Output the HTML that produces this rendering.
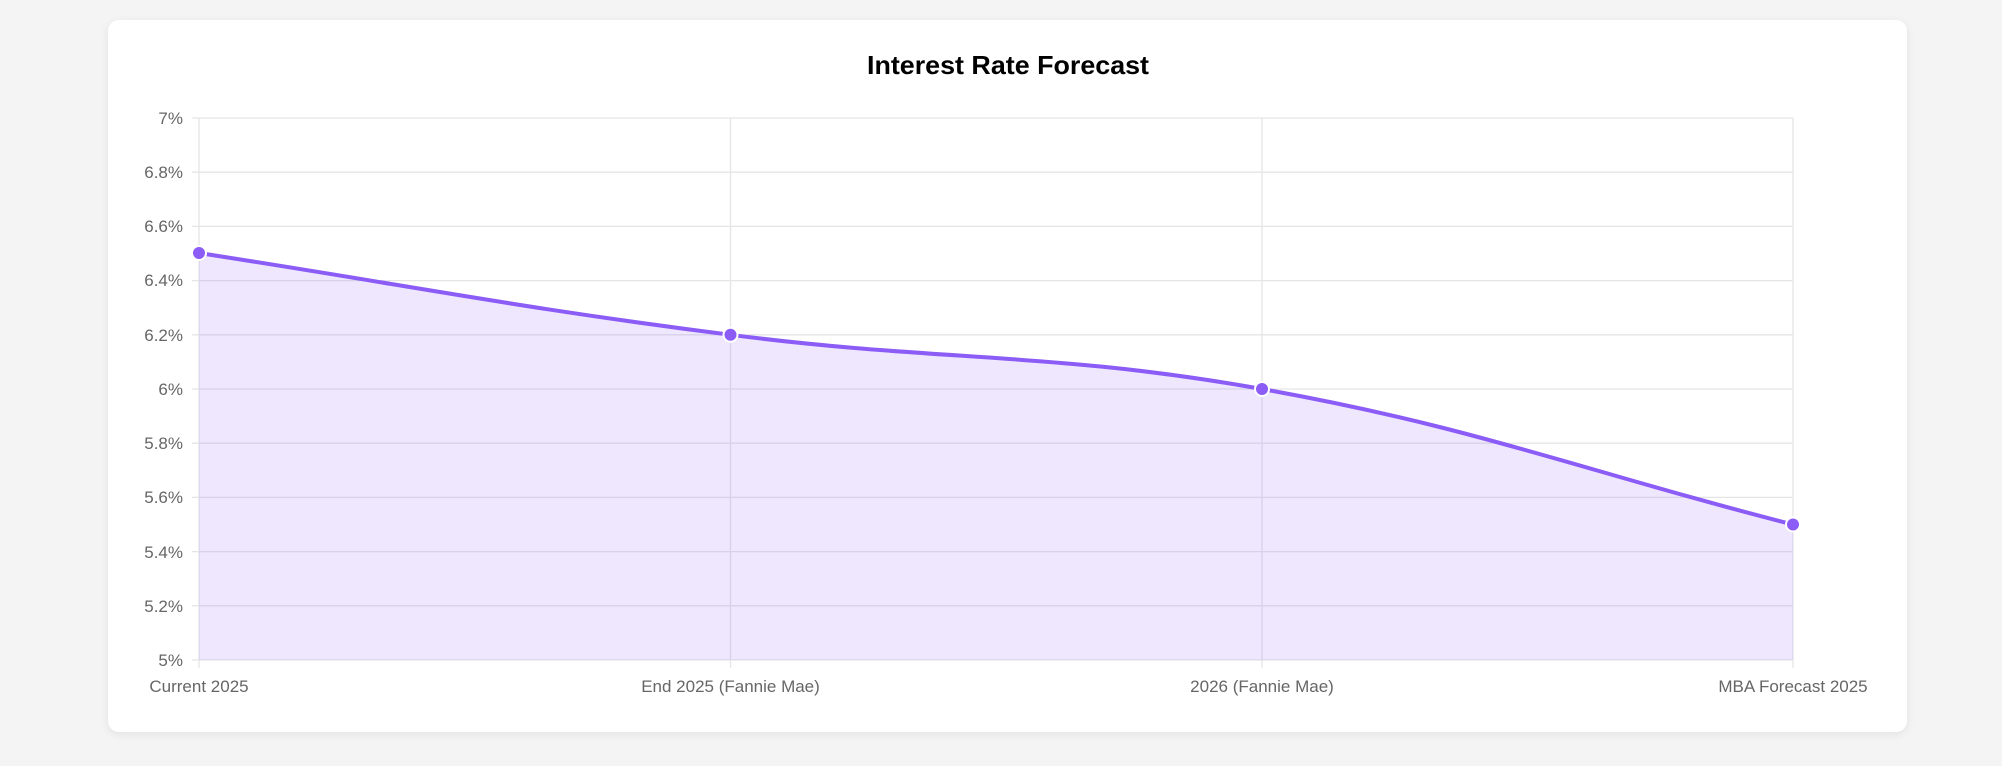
<!DOCTYPE html>
<html><head><meta charset="utf-8"><style>
html,body{margin:0;padding:0;background:#f4f4f4;width:2002px;height:766px;overflow:hidden}
</style></head><body>
<svg width="2002" height="766" xmlns="http://www.w3.org/2000/svg" style="position:absolute;left:0;top:0">
<defs><filter id="sh" x="-5%" y="-5%" width="110%" height="110%"><feDropShadow dx="0" dy="2" stdDeviation="4" flood-color="#000" flood-opacity="0.08"/></filter></defs>
<rect x="108" y="20" width="1799" height="712" rx="11" fill="#fff" filter="url(#sh)"/>
<text x="1008" y="74" text-anchor="middle" font-family="Liberation Sans, Arial, sans-serif" font-weight="bold" font-size="26" fill="#000" textLength="282" lengthAdjust="spacingAndGlyphs">Interest Rate Forecast</text>
<g stroke="#e5e5e5" stroke-width="1.3">
<line x1="192" y1="118" x2="1793" y2="118"/>
<line x1="192" y1="172.2" x2="1793" y2="172.2"/>
<line x1="192" y1="226.4" x2="1793" y2="226.4"/>
<line x1="192" y1="280.6" x2="1793" y2="280.6"/>
<line x1="192" y1="334.8" x2="1793" y2="334.8"/>
<line x1="192" y1="389" x2="1793" y2="389"/>
<line x1="192" y1="443.2" x2="1793" y2="443.2"/>
<line x1="192" y1="497.4" x2="1793" y2="497.4"/>
<line x1="192" y1="551.6" x2="1793" y2="551.6"/>
<line x1="192" y1="605.8" x2="1793" y2="605.8"/>
<line x1="192" y1="660" x2="1793" y2="660"/>
<line x1="199" y1="118" x2="199" y2="668"/>
<line x1="730.5" y1="118" x2="730.5" y2="668"/>
<line x1="1262" y1="118" x2="1262" y2="668"/>
<line x1="1793" y1="118" x2="1793" y2="668"/>
</g>
<path d="M199,253 C411.4,285.8 516.9,307.7 730.5,334.8 C942.1,362.1 1052.1,351.5 1262,389 C1477.3,427.5 1580.6,470.3 1793,524.5 L1793,660 L199,660 Z" fill="rgba(139,92,246,0.15)"/>
<path d="M199,253 C411.4,285.8 516.9,307.7 730.5,334.8 C942.1,362.1 1052.1,351.5 1262,389 C1477.3,427.5 1580.6,470.3 1793,524.5" fill="none" stroke="#8b5cf6" stroke-width="4"/>
<g fill="#8b5cf6" stroke="#fff" stroke-width="2">
<circle cx="199" cy="253" r="7"/><circle cx="730.5" cy="334.8" r="7"/><circle cx="1262" cy="389" r="7"/><circle cx="1793" cy="524.5" r="7"/>
</g>
<g font-family="Liberation Sans, Arial, sans-serif" font-size="17" fill="#666" text-anchor="end">
<text x="183" y="124">7%</text>
<text x="183" y="178">6.8%</text>
<text x="183" y="232">6.6%</text>
<text x="183" y="286">6.4%</text>
<text x="183" y="341">6.2%</text>
<text x="183" y="395">6%</text>
<text x="183" y="449">5.8%</text>
<text x="183" y="503">5.6%</text>
<text x="183" y="558">5.4%</text>
<text x="183" y="612">5.2%</text>
<text x="183" y="666">5%</text>
</g>
<g font-family="Liberation Sans, Arial, sans-serif" font-size="17" fill="#666" text-anchor="middle">
<text x="199" y="692">Current 2025</text>
<text x="730.5" y="692">End 2025 (Fannie Mae)</text>
<text x="1262" y="692">2026 (Fannie Mae)</text>
<text x="1793" y="692">MBA Forecast 2025</text>
</g>
</svg>
</body></html>
